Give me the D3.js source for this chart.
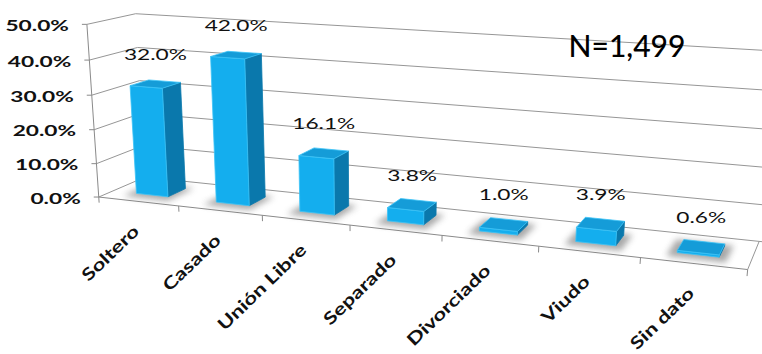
<!DOCTYPE html>
<html><head><meta charset="utf-8">
<script src="https://cdn.jsdelivr.net/npm/d3@7"></script>
<style>body{margin:0;background:#fff}svg{display:block}</style>
</head><body>
<svg id="c" width="762" height="354"></svg>
<script>
const categories = ["Soltero","Casado","Unión Libre","Separado","Divorciado","Viudo","Sin dato"];
const values = [32.0, 42.0, 16.1, 3.8, 1.0, 3.9, 0.6];
const valueTicks = [0,10,20,30,40,50];
const sampleNote = "N=1,499";

// perspective camera matrix (fitted to the original frame): normalized (slot, value, depth) -> screen/100
const CAM = [5.31203, -0.15447, 0.54772, 0.98749, 0.30059, -1.73689, -0.09378, 1.97039, -0.15744, -0.04143, 0.05938];

const xBand = d3.scaleBand().domain(categories).range([0,7]).paddingInner(0.6).paddingOuter(0.3);
const yScale = d3.scaleLinear().domain([0,50]).range([0,1]);
const xUnit = d3.scaleLinear().domain([0,7]).range([0,1]);
const m = CAM;
function P(X,V,Z){ const x=xUnit(X), y=yScale(V), z=Z; const w=m[8]*x+m[9]*y+m[10]*z+1;
  return [100*(m[0]*x+m[1]*y+m[2]*z+m[3])/w, 100*(m[4]*x+m[5]*y+m[6]*z+m[7])/w]; }

const svg = d3.select("#c");
const defs = svg.append("defs");
defs.append("filter").attr("id","blur").attr("x","-50%").attr("y","-50%").attr("width","200%").attr("height","200%")
  .append("feGaussianBlur").attr("stdDeviation",3);

const poly = pts => "M"+pts.map(p=>P(...p).map(d=>d.toFixed(2)).join(",")).join("L")+"Z";
const seg = (a,b) => "M"+P(...a).join(",")+"L"+P(...b).join(",");

const grid = svg.append("g").attr("fill","none").attr("stroke","#969696").attr("stroke-width",1);
valueTicks.forEach(t=>{
  grid.append("path").attr("d", seg([0,t,0],[0,t,1]));
  grid.append("path").attr("d", seg([0,t,1],[7.3,t,1]));
});
grid.append("path").attr("d", seg([7,0,0],[7,0,1]));
const ax = svg.append("g").attr("fill","none").attr("stroke","#8a8a8a").attr("stroke-width",1);
ax.append("path").attr("d", seg([0,-1.7,0],[0,50,0]));
ax.append("path").attr("d", seg([0,0,0],[7,0,0]));
d3.range(1,8).forEach(i=> ax.append("path").attr("d", seg([i,0,0],[i,-1.7,0])));
valueTicks.forEach(t=>{ const [x,y]=P(0,t,0); ax.append("path").attr("d",`M${x-5},${y}L${x},${y}`); });

const SX = 1.42, SXC = 1.32;
const fontF = "Lato, 'Open Sans', sans-serif";
valueTicks.forEach(t=>{ const [x,y]=P(0,t,0);
  svg.append("text").attr("transform",`translate(${x-18},${y+1}) scale(${SX},1)`).attr("text-anchor","end").attr("dy","0.35em")
    .attr("font-family",fontF).attr("font-weight",700).attr("font-size",16).attr("fill","#111").text(d3.format(".1%")(t/100));
});
categories.forEach((c,i)=>{ const [x,y]=P(i+0.5,0,0);
  svg.append("text").attr("transform",`translate(${x+2},${y+31}) rotate(-44) scale(${SXC},1)`).attr("text-anchor","end")
    .attr("font-family",fontF).attr("font-weight",700).attr("font-size",17).attr("fill","#111").text(c);
});

const z0=0.3, z1=0.7;
const bars = svg.append("g");
categories.forEach((c,i)=>{
  const x0=xBand(c), x1=x0+xBand.bandwidth();
  bars.append("path").attr("d", poly([[x0-0.08,0,z0-0.15],[x1+0.08,0,z0-0.15],[x1+0.08,0,z1+0.05],[x0-0.08,0,z1+0.05]]))
    .attr("fill","#6e6e6e").attr("opacity",0.6).attr("filter","url(#blur)");
});
categories.forEach((c,i)=>{
  const x0=xBand(c), x1=x0+xBand.bandwidth(), v=values[i];
  const g=bars.append("g").attr("stroke-width",0.8).attr("stroke-linejoin","round");
  g.append("path").attr("d", poly([[x1,0,z0],[x1,0,z1],[x1,v,z1],[x1,v,z0]])).attr("fill","#0a78ac").attr("stroke","#0a78ac");
  g.append("path").attr("d", poly([[x0,0,z0],[x1,0,z0],[x1,v,z0],[x0,v,z0]])).attr("fill","#14aeee").attr("stroke","#3cc4f8");
  g.append("path").attr("d", poly([[x0,v,z0],[x1,v,z0],[x1,v,z1],[x0,v,z1]])).attr("fill","#159cd8").attr("stroke","#3cc4f8");
});
categories.forEach((c,i)=>{ const [x,y]=P(i+0.5,values[i],0.5);
  svg.append("text").attr("transform",`translate(${x},${y-24}) scale(${SX},1)`).attr("text-anchor","middle")
    .attr("font-family",fontF).attr("font-weight",400).attr("font-size",16).attr("fill","#111").text(d3.format(".1%")(values[i]/100));
});
svg.append("text").attr("x",627).attr("y",57).attr("text-anchor","middle").attr("font-family",fontF).attr("font-weight",500)
  .attr("font-size",30).attr("fill","#000").text(sampleNote);
</script>
</body></html>
